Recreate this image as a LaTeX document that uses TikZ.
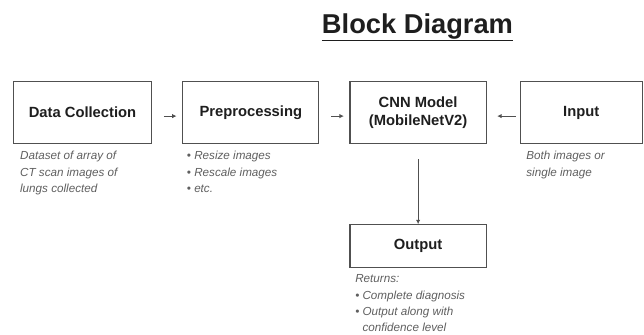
\documentclass[tikz,border=0pt]{standalone}
\usepackage{fontspec}
\setmainfont{Liberation Sans}
\usepackage{tikz}
\usetikzlibrary{arrows.meta,positioning}
\usepackage{xcolor}
\definecolor{BoxLine}{RGB}{80,80,80}
\definecolor{BoxText}{RGB}{30,30,30}
\definecolor{NoteGray}{RGB}{95,95,95}

\begin{document}
\begin{tikzpicture}[x=0.025cm,y=-0.025cm,node distance=0.75cm,
    block/.style={draw=BoxLine,line width=0.9pt,minimum width=3.4cm,minimum height=1.55cm,align=center,text=BoxText,font=\fontsize{10.5}{12.5}\selectfont\bfseries},
    note/.style={anchor=north west,inner sep=0pt,align=left,text=NoteGray,font=\fontsize{8.3}{11.6}\selectfont\itshape},
    flow/.style={-{Latex[length=1.1mm,width=1.1mm]},draw=BoxLine,line width=0.6pt}]
    \useasboundingbox (0,0) rectangle (644,335);
    \node[anchor=base,text=BoxText,font=\fontsize{19.4}{22}\selectfont\bfseries] (title) at (417.5,33) {\underline{Block Diagram}};
    \node[block,minimum width=3.45cm] (dc) at (82.5,112.5) {Data Collection};
    \node[block,right=of dc] (pre) {Preprocessing};
    \node[block,right=of pre] (cnn) {CNN Model\\(MobileNetV2)};
    \node[block,right=0.82cm of cnn,minimum width=3.05cm] (in) {Input};
    \node[block,below=2cm of cnn,minimum height=1.075cm] (out) {Output};
    % notes under the boxes
    \node[note] (dcnote) at ([shift={(7,7)}]dc.south west) {Dataset of array of\\CT scan images of\\lungs collected};
    \node[note] (prenote) at ([shift={(4.5,7)}]pre.south west) {\textbullet\ Resize images\\\textbullet\ Rescale images\\\textbullet\ etc.};
    \node[note] (innote) at ([shift={(6.5,7)}]in.south west) {Both images or\\single image};
    \node[note] (outnote) at ([shift={(5.5,6)}]out.south west) {Returns:\\\textbullet\ Complete diagnosis\\\textbullet\ Output along with\\\phantom{\textbullet\ }confidence level};
    \draw[flow,shorten <=0.29cm,shorten >=0.14cm] ([yshift=-0.09cm]dc.east) -- ([yshift=-0.09cm]pre.west);
    \draw[flow,shorten <=0.29cm,shorten >=0.14cm] ([yshift=-0.09cm]pre.east) -- ([yshift=-0.09cm]cnn.west);
    \draw[flow,shorten <=0.09cm,shorten >=0.26cm] ([yshift=-0.09cm]in.west) -- ([yshift=-0.09cm]cnn.east);
    \draw[flow,shorten <=0.375cm] (cnn) -- (out);
\end{tikzpicture}
\end{document}
